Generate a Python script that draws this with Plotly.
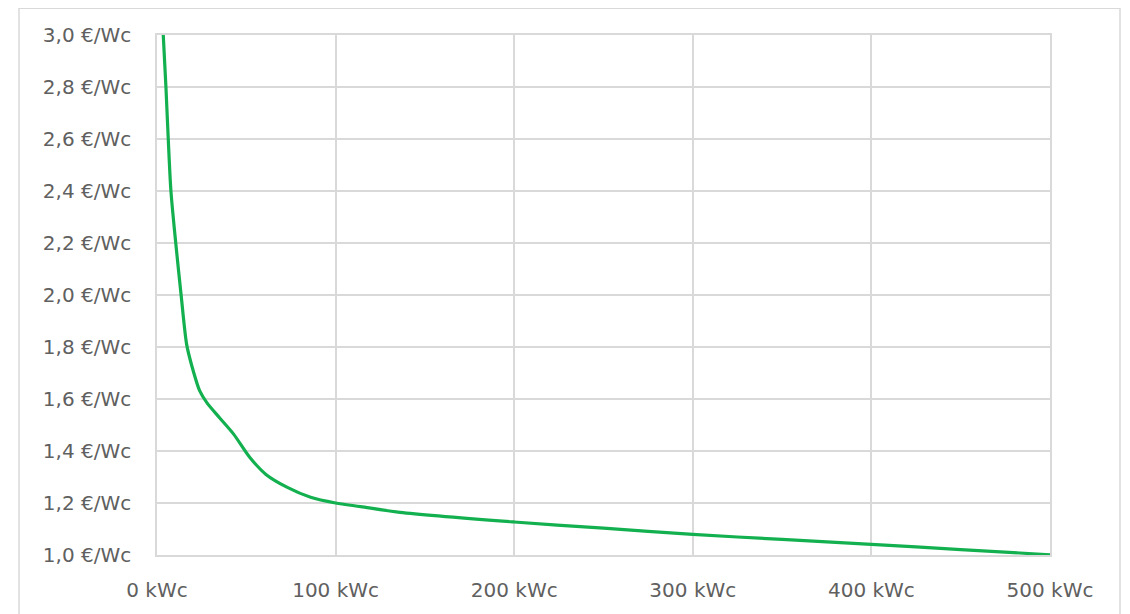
import plotly.graph_objects as go

# Data
power_kwc = [3.5, 5, 6.3, 7.8, 10.5, 13.5, 16.6, 19.4, 24, 28, 35, 43, 52, 61, 73, 86, 100, 114, 136, 200, 250, 300, 350, 400, 450, 500]
price_eur_wc = [3.0, 2.8, 2.6, 2.4, 2.2, 2.0, 1.81, 1.73, 1.63, 1.585, 1.528, 1.464, 1.375, 1.31, 1.26, 1.222, 1.2, 1.186, 1.164, 1.127, 1.103, 1.079, 1.06, 1.041, 1.021, 1.001]

x_ticks = [0, 100, 200, 300, 400, 500]
x_tick_labels = ["0 kWc", "100 kWc", "200 kWc", "300 kWc", "400 kWc", "500 kWc"]
y_ticks = [1.0, 1.2, 1.4, 1.6, 1.8, 2.0, 2.2, 2.4, 2.6, 2.8, 3.0]
y_tick_labels = [f"{v:.1f}".replace(".", ",") + " €/Wc" for v in y_ticks]

# page body has an 8px offset
W, H = 1122, 606
L, T = 149, 27
pw, ph = 893, 523
R, B = W - L - pw, H - T - ph

fig = go.Figure()
fig.add_trace(go.Scatter(
    x=power_kwc, y=price_eur_wc, mode="lines",
    line=dict(color="#13B04F", width=3.2, shape="spline", smoothing=0.8),
    hoverinfo="skip", showlegend=False,
))

grid = "#D9D9D9"
fig.update_layout(
    width=W, height=H,
    margin=dict(l=L, r=R, t=T, b=B),
    paper_bgcolor="white", plot_bgcolor="white",
    font=dict(family="DejaVu Sans, sans-serif", size=20, color="#606060"),
    xaxis=dict(range=[0, 500], tickvals=x_ticks, ticktext=x_tick_labels,
               showgrid=True, gridcolor=grid, gridwidth=1.5,
               showline=True, linecolor=grid, linewidth=1.5, mirror=True,
               zeroline=False, ticks="outside", ticklen=16, tickcolor="rgba(0,0,0,0)"),
    yaxis=dict(range=[1.0, 3.0], tickvals=y_ticks, ticktext=y_tick_labels,
               showgrid=True, gridcolor=grid, gridwidth=1.5,
               showline=True, linecolor=grid, linewidth=1.5, mirror=True,
               zeroline=False, ticks="outside", ticklen=20, tickcolor="rgba(0,0,0,0)"),
    shapes=[dict(type="rect", xref="paper", yref="paper",
                 x0=(11 - L) / pw, x1=(1112 - L) / pw,
                 y0=-(H + 10 - T - ph) / ph, y1=1 + T / ph,
                 line=dict(color="#D9D9D9", width=1.5), fillcolor="rgba(0,0,0,0)", layer="below")],
)

fig.write_html("out.html")
